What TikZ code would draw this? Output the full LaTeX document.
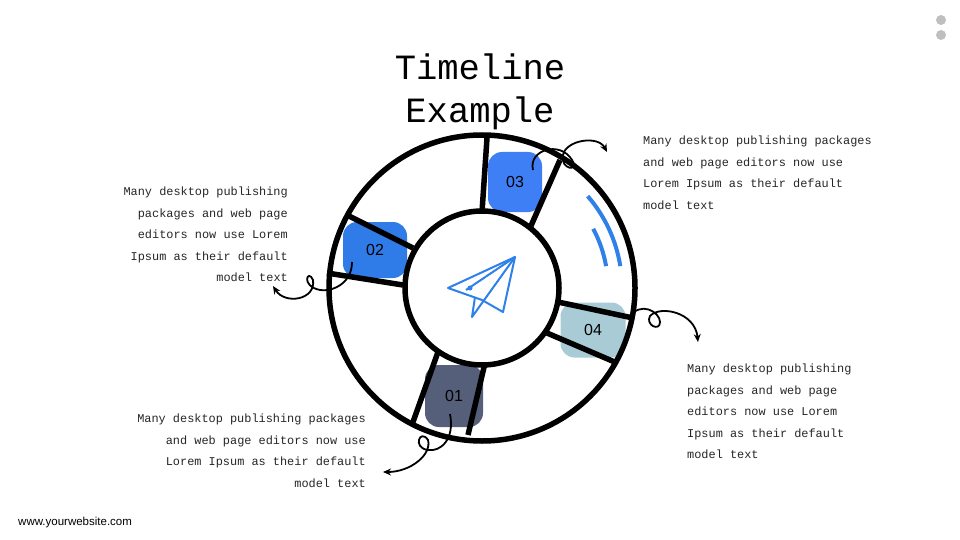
\documentclass[tikz,border=0pt]{standalone}
\usepackage{fontspec}
\setmainfont{Liberation Sans}
\newfontfamily\monof{Liberation Mono}
\usetikzlibrary{arrows.meta}
\definecolor{cA}{HTML}{3F7FF5}
\definecolor{cB}{HTML}{2F7CE8}
\definecolor{cC}{HTML}{A9CBD5}
\definecolor{cD}{HTML}{555F7A}
\definecolor{planeblue}{HTML}{2F80E8}
\tikzset{
 ring/.style={line width=5.5pt,black},
 blob/.style={rounded corners=14pt,inner sep=0pt,font=\fontsize{16}{16}\selectfont},
 body/.style={font=\monof\fontsize{11.9}{21.5}\selectfont,inner sep=0pt,text=black!85},
 curl/.style={line width=1.8pt,-{Stealth[length=8pt,width=7pt]}},
}
\begin{document}
\begin{tikzpicture}[x=1pt,y=-1pt]
\useasboundingbox (0,0) rectangle (960,540);
% blobs
\node[blob,fill=cA,minimum width=54pt,minimum height=60pt] (b3) at (515,182) {03};
\node[blob,fill=cB,minimum width=64pt,minimum height=56pt] (b2) at (375,250) {02};
\node[blob,fill=cC,minimum width=65pt,minimum height=55pt] (b4) at (593,330) {04};
\node[blob,fill=cD,minimum width=58pt,minimum height=62pt] (b1) at (454,396) {01};
% ring
\coordinate (c) at (482,288);
\draw[ring] (c) circle (153);
\draw[ring,fill=white] (c) circle (77);
\draw[ring] (482,212)--(487,138);
\draw[ring] (530,228)--(560,160);
\draw[ring] (413,248)--(347,215);
\draw[ring] (403,285)--(327,273);
\draw[ring] (558,302)--(633,318);
\draw[ring] (547,333)--(617,363);
\draw[ring] (438,352)--(413,422);
\draw[ring] (485,363)--(468,435);
% blue arcs
\draw[planeblue,line width=4pt] ([shift={(c)}]-41:140) arc(-41:-9:140);
\draw[planeblue,line width=4pt] ([shift={(c)}]-28:126) arc(-28:-10:126);
% plane
\begin{scope}[planeblue,line width=2pt,line join=round]
\draw (448,288)--(515,257)--(503,312)--(482,300)--cycle;
\draw (515,257)--(472,317)--(475,297);
\draw (515,257)--(466,290);
\fill (470,288) circle (2.5);
\end{scope}
% curls
\coordinate (e3) at (607,152);
\coordinate (e2) at (273,286);
\coordinate (e4) at (698,342);
\coordinate (e1) at (383,472);
\draw[curl] ([xshift=18pt,yshift=12pt]b3.center) .. controls (528,150) and (560,140) .. (572,160)
 .. controls (580,172) and (560,170) .. (563,155) .. controls (566,140) and (598,135) .. (e3);
\draw[curl] ([xshift=-23pt,yshift=-12pt]b2.center) .. controls (352,285) and (330,292) .. (320,290)
 .. controls (300,286) and (308,268) .. (313,280) .. controls (316,300) and (285,305) .. (e2);
\draw[curl] ([xshift=36pt,yshift=12pt]b4.center) .. controls (640,300) and (660,312) .. (660,322)
 .. controls (660,332) and (645,325) .. (650,316) .. controls (660,305) and (695,312) .. (e4);
\draw[curl] ([xshift=-4pt,yshift=-18pt]b1.center) .. controls (455,440) and (440,452) .. (428,450)
 .. controls (412,448) and (420,428) .. (428,440) .. controls (432,455) and (410,472) .. (e1);
% title
\node[font=\monof\fontsize{35.5}{43}\selectfont,align=center] (title) at (480,92) {Timeline\\Example};
% texts
\node[body,anchor=north west,align=left] (t3) at (643,136) {Many desktop publishing packages\\and web page editors now use\\Lorem Ipsum as their default\\model text};
\node[body,anchor=north east,align=right] (t2) at (288,187) {Many desktop publishing\\packages and web page\\editors now use Lorem\\Ipsum as their default\\model text};
\node[body,anchor=north west,align=left] (t4) at (687,364) {Many desktop publishing\\packages and web page\\editors now use Lorem\\Ipsum as their default\\model text};
\node[body,anchor=north east,align=right] (t1) at (366,414) {Many desktop publishing packages\\and web page editors now use\\Lorem Ipsum as their default\\model text};
\node[anchor=west,font=\fontsize{11.5}{13}\selectfont,inner sep=0pt] (web) at (18,523) {www.yourwebsite.com};
\fill[gray!50] (941,20) circle (5) (941,35) circle (5);
\end{tikzpicture}
\end{document}
